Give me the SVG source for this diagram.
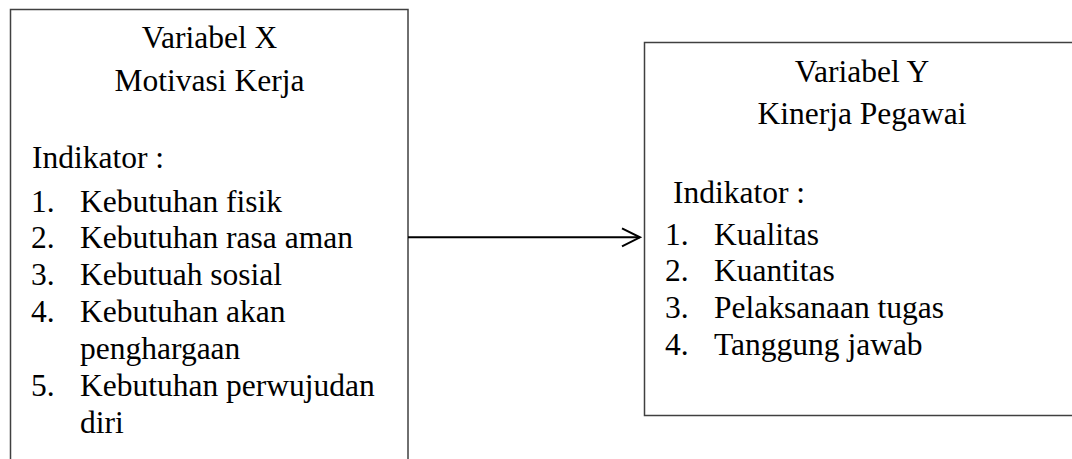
<svg xmlns="http://www.w3.org/2000/svg" width="1072" height="459" viewBox="0 0 1072 459">
<style>
.box{fill:#fff;stroke:#404040;stroke-width:1.5}
text{font-family:"Liberation Serif","Times New Roman",serif;font-size:31.5px;fill:#000}
.c{text-anchor:middle}
.conn{stroke:#000;stroke-width:2;fill:none}
</style>
<defs>
<marker id="arr" markerWidth="22" markerHeight="22" refX="19" refY="10" orient="auto" markerUnits="userSpaceOnUse">
<path d="M1,1 L19,10 L1,19" fill="none" stroke="#000" stroke-width="2"/>
</marker>
</defs>
<rect width="1072" height="459" fill="#fff"/>
<g id="nodeX">
<rect class="box" x="10.5" y="9.5" width="397.5" height="470"/>
<text class="c" x="209.5" y="47.7">Variabel X</text>
<text class="c" x="209.5" y="90.7">Motivasi Kerja</text>
<text x="32" y="168">Indikator :</text>
<text x="31" y="211.7">1.</text><text x="80" y="211.7">Kebutuhan fisik</text>
<text x="31" y="248">2.</text><text x="80" y="248">Kebutuhan rasa aman</text>
<text x="31" y="285">3.</text><text x="80" y="285">Kebutuah sosial</text>
<text x="31" y="322">4.</text><text x="80" y="322">Kebutuhan akan</text>
<text x="80" y="358.5">penghargaan</text>
<text x="31" y="395.5">5.</text><text x="80" y="395.5">Kebutuhan perwujudan</text>
<text x="80" y="433">diri</text>
</g>
<g id="nodeY">
<rect class="box" x="644.5" y="42.5" width="440" height="373"/>
<text class="c" x="862" y="82.3">Variabel Y</text>
<text class="c" x="862" y="124.3">Kinerja Pegawai</text>
<text x="673" y="203">Indikator :</text>
<text x="665" y="245">1.</text><text x="714" y="245">Kualitas</text>
<text x="665" y="281">2.</text><text x="714" y="281">Kuantitas</text>
<text x="665" y="317.5">3.</text><text x="714" y="317.5">Pelaksanaan tugas</text>
<text x="665" y="355">4.</text><text x="714" y="355">Tanggung jawab</text>
</g>
<g id="connectors">
<path class="conn" d="M408,237.3 L640,237.3" marker-end="url(#arr)"/>
</g>
</svg>
